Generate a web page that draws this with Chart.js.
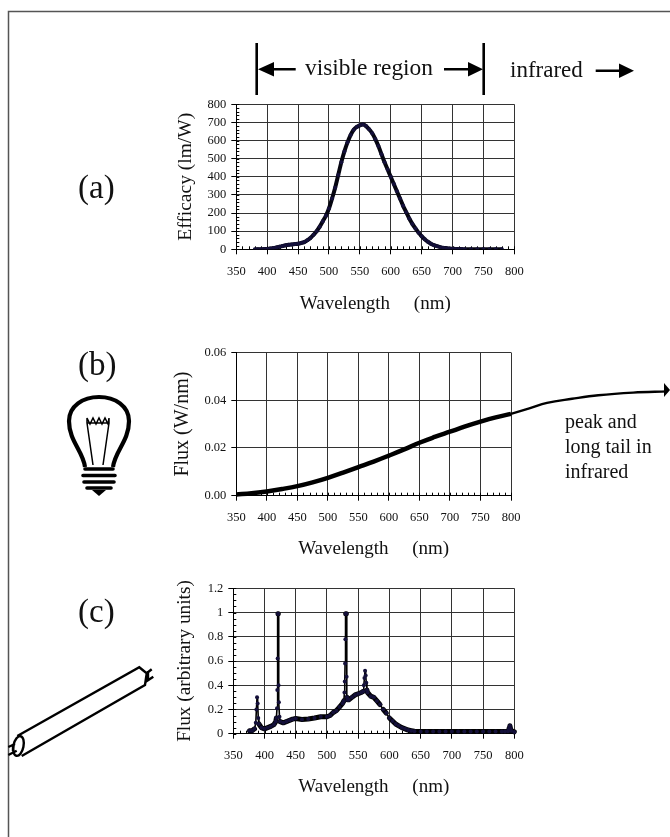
<!DOCTYPE html>
<html>
<head>
<meta charset="utf-8">
<title>Efficacy and flux</title>
<script src="https://cdn.jsdelivr.net/npm/chart.js@4"></script>
<style>
    html, body { margin: 0; padding: 0; background: #fff; }
    #page { position: relative; width: 670px; height: 837px; overflow: hidden; }
    canvas { position: absolute; left: 0; }
    svg { position: absolute; left: 0; top: 0; }
    svg text { font-family: "Liberation Serif", serif; fill: #111; }
</style>
</head>
<body>
<div id="page">
    <canvas id="chartA" width="670" height="235" style="top:90px"></canvas>
    <canvas id="chartB" width="670" height="230" style="top:340px"></canvas>
    <canvas id="chartC" width="670" height="240" style="top:575px"></canvas>

    <svg width="670" height="837">
        <!-- frame -->
        <path d="M670 11.5H8.5V837" fill="none" stroke="#555" stroke-width="1.5"/>

        <!-- visible region header -->
        <g stroke="#000" stroke-width="2.6" fill="none">
            <path d="M256.7 43V95M483.7 43V95"/>
            <path d="M272 69.3H295.7M444 69.3H470M595.7 70.7H621"/>
        </g>
        <path d="M258 69.3L274 62V76.6Z M483 69.3L468 62V76.6Z M634 70.7L619 63.4V78Z" fill="#000"/>
        <text x="305" y="75" font-size="23.4">visible region</text>
        <text x="510" y="77" font-size="23">infrared</text>

        <!-- panel letters -->
        <text x="78" y="198" font-size="33">(a)</text>
        <text x="78" y="375" font-size="33">(b)</text>
        <text x="78" y="622" font-size="33">(c)</text>

        <text x="565" y="428" font-size="20">peak and</text>
        <text x="565" y="453" font-size="20">long tail in</text>
        <text x="565" y="478" font-size="20">infrared</text>

        <!-- arrow head at the end of the tail, the line itself comes from chart b -->
        <path d="M664 383L670 390L664 397Z" fill="#000"/>

        <!-- bulb -->
        <g fill="none" stroke="#000">
            <path stroke-width="4.2" d="M85 467C83 451 69 441 69 421C69 406 83 397 99 397C115 397 129 406 129 421C129 441 115 451 113 467"/>
            <path stroke-width="1.5" d="M87 423L93 465M109 423L103 465M87 423V418L90 424L93 418L96 424L99 418L102 424L105 418L108 424L109 418V423H87"/>
            <path stroke-width="3.6" stroke-linecap="round" d="M85 469H113M83 475.5H115M84 482H114M87 488H111"/>
        </g>
        <path d="M92 490H106L99 496Z" fill="#000"/>

        <!-- tube -->
        <g fill="none" stroke="#000" stroke-width="2.4">
            <path d="M17.3 736L139.3 667.3L146.7 673.3L145 685L21.7 756"/>
            <ellipse cx="18.5" cy="746" rx="5" ry="10" transform="rotate(12 18.5 746)"/>
            <path d="M146.7 673.3L151.7 669.3M145.7 681.7L153.3 676.7M148 671V680"/>
            <path d="M8.3 747L15 744M8.3 755L16.7 750.7M13 744V751"/>
        </g>
    </svg>
</div>

<script>
// (a) luminous efficacy
const efficacyNm = [380,385,390,395,400,405,410,415,420,425,430,435,440,445,450,455,460,465,470,475,480,485,490,495,500,505,510,515,520,525,530,535,540,545,550,555,560,565,570,575,580,585,590,595,600,605,610,615,620,625,630,635,640,645,650,655,660,665,670,675,680,685,690,695,700,705,710,715,720,730,740,750,760,770,780];
const efficacy = [0,0.3,0.6,1,2,4,7,10,14,18,22,25,27,29,31,35,40,50,62,80,100,125,155,185,225,280,340,410,480,540,590,630,660,675,684,688,680,662,640,608,570,525,480,440,400,360,320,280,240,205,170,140,115,92,72,56,42,31,23,17,12,8,6,4,3,2,1.5,1,0.8,0.4,0.2,0.1,0.1,0,0];
const efficacyTicks = [0,100,200,300,400,500,600,700,800];

// (b) incandescent lamp, the tail runs off the axis and is listed from the far end back
const bulbNm = [350,375,400,425,450,475,500,525,550,575,600,625,650,675,700,725,750,775,800];
const bulbFlux = [0.0005,0.001,0.0018,0.0028,0.004,0.0056,0.0075,0.0097,0.012,0.0143,0.0168,0.0194,0.0222,0.0246,0.0268,0.029,0.031,0.0328,0.0343];
const tailNm = [1056,1000,943,900,859,830,800];
const tailFlux = [0.0437,0.0432,0.0421,0.0406,0.0389,0.0366,0.0343];
const bulbTicks = [0,0.02,0.04,0.06];

// (c) fluorescent lamp
const tubeNm = [376,380,384,386,387,388,389,390,391,395,400,405,410,415,418,419,420,420.5,421,421.5,422,422.5,423,424,425,430,435,440,445,450,460,470,480,490,500,505,510,515,520,525,527,528,528.5,529,529.5,530,531,531.5,532,533,535,540,545,550,555,558,559,560,561,562,563,564,565,570,575,580,585,590,595,600,605,610,615,620,625,630,635,640,650,660,670,680,690,700,710,720,730,740,750,760,770,780,785,790,791,792,793,794,795,800];
const tubeFlux = [0.025,0.025,0.04,0.09,0.2,0.3,0.25,0.13,0.08,0.05,0.04,0.05,0.06,0.075,0.1,0.13,0.21,0.36,0.62,0.99,0.99,0.4,0.26,0.14,0.1,0.09,0.1,0.11,0.12,0.125,0.118,0.122,0.13,0.14,0.14,0.15,0.175,0.19,0.22,0.25,0.27,0.34,0.43,0.58,0.78,0.99,0.99,0.47,0.3,0.28,0.28,0.3,0.32,0.33,0.34,0.35,0.4,0.46,0.52,0.48,0.42,0.36,0.34,0.31,0.3,0.27,0.24,0.2,0.17,0.13,0.105,0.08,0.065,0.05,0.04,0.03,0.025,0.02,0.018,0.018,0.018,0.018,0.018,0.018,0.018,0.018,0.018,0.018,0.018,0.018,0.018,0.018,0.018,0.02,0.03,0.05,0.065,0.04,0.025,0.015];
const tubeTicks = [0,0.2,0.4,0.6,0.8,1,1.2];

const nmTicks = [350,400,450,500,550,600,650,700,750,800];

const serif = 'Liberation Serif';
const ink = '#111';
const gridColor = '#333';
const dotColor = '#14103a';

function points(xs, ys) {
    return xs.map((x, i) => ({ x: x, y: ys[i] }));
}

// small inside ticks between the labelled ones
const minorTicks = {
    id: 'minorTicks',
    beforeDatasetsDraw(chart, args, opts) {
        const { ctx, scales: { x, y } } = chart;
        ctx.save();
        ctx.strokeStyle = '#000';
        ctx.lineWidth = 1;
        ctx.beginPath();
        for (let v = x.min; opts.xStep && v <= x.max; v += opts.xStep) {
            const px = Math.round(x.getPixelForValue(v)) + 0.5;
            ctx.moveTo(px, y.bottom);
            ctx.lineTo(px, y.bottom - 3);
        }
        for (let i = 0; opts.yStep && y.min + i * opts.yStep <= y.max + 1e-9; i++) {
            const py = Math.round(y.getPixelForValue(y.min + i * opts.yStep)) + 0.5;
            ctx.moveTo(x.left, py);
            ctx.lineTo(x.left + 3, py);
        }
        ctx.stroke();
        ctx.restore();
    }
};

function makeChart(id, cfg) {
    const canvas = document.getElementById(id);
    const top = cfg.top;
    return new Chart(canvas, {
        type: 'scatter',
        data: { datasets: cfg.datasets },
        plugins: [minorTicks],
        options: {
            responsive: false,
            animation: false,
            layout: {
                padding: {
                    left: cfg.titleX - 11.4,
                    top: cfg.plotTop - top,
                    right: 670 - cfg.plotRight,
                    bottom: top + canvas.height - cfg.titleY - 11.4
                }
            },
            plugins: {
                legend: { display: false },
                tooltip: { enabled: false },
                minorTicks: { xStep: 10, yStep: cfg.yStep }
            },
            scales: {
                x: {
                    type: 'linear',
                    min: 350,
                    max: 800,
                    afterBuildTicks: s => { s.ticks = nmTicks.map(v => ({ value: v })); },
                    afterFit: s => { s.height = cfg.titleY - cfg.plotBottom + 11.4; },
                    ticks: {
                        autoSkip: false,
                        maxRotation: 0,
                        padding: 10,
                        color: ink,
                        font: { family: serif, size: 12.5 }
                    },
                    grid: { color: gridColor, tickColor: '#000', tickLength: 5 },
                    border: { color: '#000' },
                    title: {
                        display: true,
                        text: 'Wavelength     (nm)',
                        color: ink,
                        padding: 0,
                        font: { family: serif, size: 19 }
                    }
                },
                y: {
                    min: cfg.yTicks[0],
                    max: cfg.yTicks[cfg.yTicks.length - 1],
                    afterBuildTicks: s => { s.ticks = cfg.yTicks.map(v => ({ value: v })); },
                    afterFit: s => { s.width = cfg.plotLeft - (cfg.titleX - 11.4); },
                    ticks: {
                        autoSkip: false,
                        padding: 5,
                        color: ink,
                        font: { family: serif, size: 12.5 },
                        callback: cfg.yLabel
                    },
                    grid: { color: gridColor, tickColor: '#000', tickLength: 5 },
                    border: { color: '#000' },
                    title: {
                        display: true,
                        text: cfg.yTitle,
                        color: ink,
                        padding: 0,
                        font: { family: serif, size: cfg.yTitleSize }
                    }
                }
            }
        }
    });
}

makeChart('chartA', {
    top: 90, plotTop: 104.3, plotBottom: 249.3, plotLeft: 236.3, plotRight: 514.3,
    titleX: 186, titleY: 304, yStep: 20,
    yTicks: efficacyTicks,
    yTitle: 'Efficacy (lm/W)', yTitleSize: 19.5,
    yLabel: v => String(v),
    datasets: [{
        data: points(efficacyNm, efficacy),
        showLine: true,
        tension: 0.3,
        borderColor: '#050510',
        borderWidth: 4,
        borderJoinStyle: 'round',
        pointRadius: 2,
        pointBackgroundColor: dotColor,
        pointBorderWidth: 0
    }]
});

makeChart('chartB', {
    top: 340, plotTop: 350.7, plotBottom: 495.7, plotLeft: 236.3, plotRight: 511,
    titleX: 182, titleY: 549, yStep: 0,
    yTicks: bulbTicks,
    yTitle: 'Flux (W/nm)', yTitleSize: 20,
    yLabel: v => v.toFixed(2),
    datasets: [{
        data: points(bulbNm, bulbFlux),
        showLine: true,
        tension: 0.4,
        borderColor: '#000',
        borderWidth: 4.5,
        borderJoinStyle: 'round',
        pointRadius: 0,
        clip: false
    }, {
        data: points(tailNm, tailFlux),
        showLine: true,
        tension: 0.4,
        borderColor: '#000',
        borderWidth: 2.4,
        pointRadius: 0,
        clip: false
    }]
});

makeChart('chartC', {
    top: 575, plotTop: 588.3, plotBottom: 733.7, plotLeft: 233.3, plotRight: 514.3,
    titleX: 185, titleY: 787, yStep: 0.05,
    yTicks: tubeTicks,
    yTitle: 'Flux (arbitrary units)', yTitleSize: 19.3,
    yLabel: v => String(+v.toFixed(1)),
    datasets: [{
        data: points(tubeNm, tubeFlux),
        showLine: true,
        borderColor: '#000',
        borderWidth: 1.6,
        borderJoinStyle: 'round',
        borderCapStyle: 'round',
        // thick along the lamp's continuum, thin up the spikes
        segment: {
            borderWidth: ctx => Math.abs(ctx.p1.parsed.y - ctx.p0.parsed.y) > 0.035 ? 1.6 : 5
        },
        pointRadius: 2,
        pointBackgroundColor: dotColor,
        pointBorderWidth: 0,
        clip: false
    }]
});
</script>
</body>
</html>
